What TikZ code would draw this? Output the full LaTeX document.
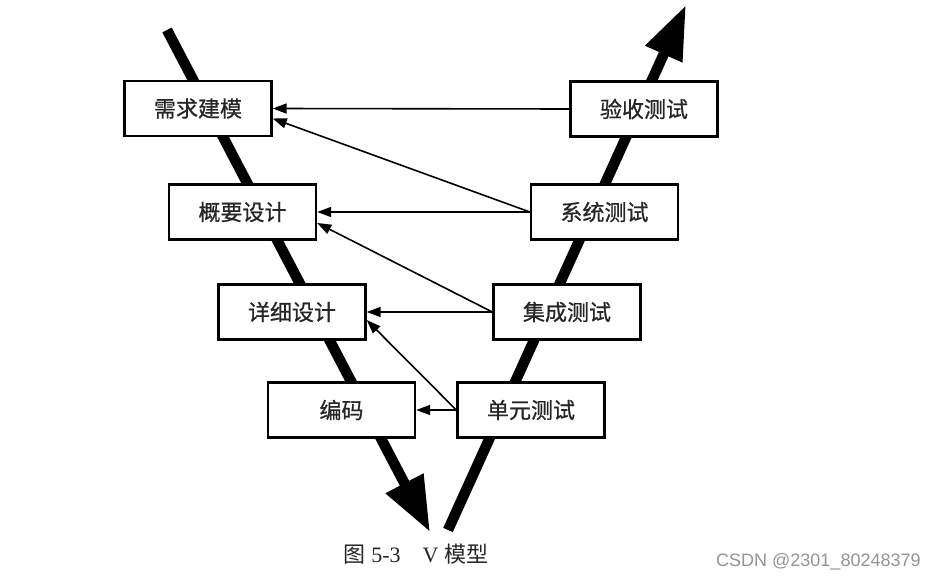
\documentclass[tikz,border=0pt]{standalone}
\usepackage{fontspec}
\setmainfont{Liberation Serif}
\newfontfamily\cjk{Noto Sans CJK SC}
\newfontfamily\cjkb[FakeBold=0.8]{Noto Sans CJK SC}
\newfontfamily\wmfont{Liberation Sans}
\usetikzlibrary{arrows.meta}
\begin{document}
\begin{tikzpicture}[x=1pt,y=-1pt,
  box/.style={draw,line width=2.4pt,fill=white,minimum width=147pt,minimum height=55pt,inner sep=0pt,text=black!85,font=\cjkb\fontsize{22}{26}\selectfont},
  flow/.style={line width=1.6pt,-{Triangle[length=14pt,width=10pt]}},
  vline/.style={line width=10.5pt}]
\useasboundingbox (0,0) rectangle (944,580);
\fill[white] (0,0) rectangle (944,580);
\coordinate (ltop) at (167,30);
\coordinate (lbot) at (430,532);
\coordinate (rbot) at (448,530);
\coordinate (rtop) at (686,5);
\draw[vline,-{Triangle[length=55pt,width=40pt]}] (ltop) -- (lbot);
\draw[vline,-{Triangle[length=54pt,width=38pt]}] (rbot) -- (rtop);
\node[box] (xq) at (198,108.5) {需求建模};
\node[box] (ys) at (644,109) {验收测试};
\node[box] (gy) at (242.5,212) {概要设计};
\node[box] (xt) at (604.5,212) {系统测试};
\node[box] (xx) at (292,312) {详细设计};
\node[box] (jc) at (567,312) {集成测试};
\node[box] (bm) at (341.5,410) {编码};
\node[box] (dy) at (531,410) {单元测试};
\draw[flow] (ys.west) -- (xq.east);
\draw[flow] (xt.west) -- ([yshift=-10pt]xq.east);
\draw[flow] (xt.west) -- (gy.east);
\draw[flow] (jc.west) -- ([yshift=-11pt]gy.east);
\draw[flow] (jc.west) -- (xx.east);
\draw[flow] (dy.west) -- ([yshift=-8pt]xx.east);
\draw[flow] (dy.west) -- (bm.east);
\node[font=\fontsize{22}{26}\selectfont,text=black!85] (cap) at (416,554) {{\cjk 图}~5-3\quad V~{\cjk 模型}};
\node[anchor=west,font=\wmfont\fontsize{18}{20}\selectfont,text=black!42,inner sep=0pt] (wm) at (716,562) {CSDN @2301\_80248379};
\end{tikzpicture}
\end{document}
